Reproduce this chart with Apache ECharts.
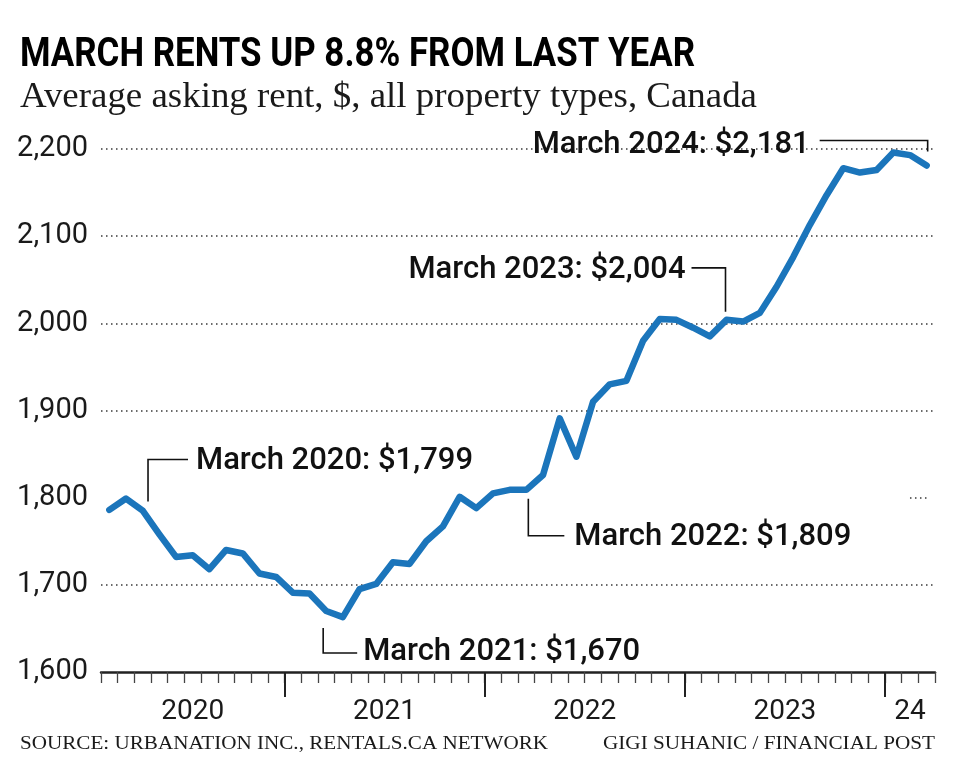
<!DOCTYPE html>
<html><head><meta charset="utf-8">
<script src="https://cdn.jsdelivr.net/npm/echarts@6/dist/echarts.min.js"></script>
<style>html,body{margin:0;padding:0;background:#fff}#c{width:960px;height:778px}</style>
</head><body><div id="c"></div>
<script>
// ---- data ----
const months = [
  'Feb 2020','Mar 2020','Apr 2020','May 2020','Jun 2020','Jul 2020','Aug 2020','Sep 2020','Oct 2020','Nov 2020','Dec 2020',
  'Jan 2021','Feb 2021','Mar 2021','Apr 2021','May 2021','Jun 2021','Jul 2021','Aug 2021','Sep 2021','Oct 2021','Nov 2021','Dec 2021',
  'Jan 2022','Feb 2022','Mar 2022','Apr 2022','May 2022','Jun 2022','Jul 2022','Aug 2022','Sep 2022','Oct 2022','Nov 2022','Dec 2022',
  'Jan 2023','Feb 2023','Mar 2023','Apr 2023','May 2023','Jun 2023','Jul 2023','Aug 2023','Sep 2023','Oct 2023','Nov 2023','Dec 2023',
  'Jan 2024','Feb 2024','Mar 2024'
];
const rents = [
  1786,1799,1785,1758,1732,1734,1718,1740,1736,1713,1709,
  1691,1690,1670,1663,1695,1701,1726,1724,1750,1767,1801,1788,
  1805,1809,1809,1826,1891,1847,1910,1930,1934,1980,2005,2004,
  1995,1985,2004,2002,2012,2042,2076,2113,2147,2178,2173,2176,
  2196,2193,2181
];
const years = ['2020','2021','2022','2023','2024'];
const yearTickLabels = ['2020','2021','2022','2023','24'];
const yMin = 1600, yMax = 2200, yStep = 100;
const annotations = [
  {month:'Mar 2020', text:'March 2020: $1,799'},
  {month:'Mar 2021', text:'March 2021: $1,670'},
  {month:'Mar 2022', text:'March 2022: $1,809'},
  {month:'Mar 2023', text:'March 2023: $2,004'},
  {month:'Mar 2024', text:'March 2024: $2,181'}
];
const titleText = 'MARCH RENTS UP 8.8% FROM LAST YEAR';
const subtitleText = 'Average asking rent, $, all property types, Canada';
const sourceText = 'SOURCE: URBANATION INC., RENTALS.CA NETWORK';
const creditText = 'GIGI SUHANIC / FINANCIAL POST';

// ---- layout / style ----
const BLUE = '#1b75bb';
const INK = '#1a1a1a';
const SANS = "Roboto, 'Liberation Sans', sans-serif";
const SERIF = "'Liberation Serif', 'DejaVu Serif', serif";
const leaderStyles = [
  {pts:[[22,3],[22,-39],[62,-39]], tx:70, ty:-37, align:'left'},
  {pts:[[-3,17],[-3,42],[31,42]], tx:37, ty:41, align:'left'},
  {pts:[[2,9],[2,46],[38,46]], tx:48, ty:47, align:'left'},
  {pts:[[-1,-8],[-1,-52],[-35,-52]], tx:-41, ty:-50, align:'right'},
  {pts:[[1,-14],[1,-25],[-107,-25]], tx:-117, ty:-20, align:'right'}
];
// header/footer text blocks: anchor x, middle y, font, target width
const textBlocks = [
  {text:titleText, x:20, y:56, align:'left', family:SANS, weight:'bold', size:40, width:675, color:'#000'},
  {text:subtitleText, x:20, y:98, align:'left', family:SERIF, weight:'normal', size:36, width:737, color:INK},
  {text:sourceText, x:20, y:744, align:'left', family:SERIF, weight:'normal', size:18, width:528, color:INK},
  {text:creditText, x:935, y:744, align:'right', family:SERIF, weight:'normal', size:18, width:332, color:INK}
];

// derived helpers built from the data arrays
const monthYear = months.map(m => m.split(' ')[1]);
const boundaries = months.map((m, i) => String(i)).concat([String(months.length)]);
const yearCenters = {};
years.forEach((y, k) => {
  const first = monthYear.indexOf(y);
  const last = monthYear.lastIndexOf(y);
  yearCenters[(first + last + 1) / 2] = yearTickLabels[k];
});
const gridColors = [];
for (let v = yMin; v <= yMax; v += yStep) {
  gridColors.push(v === yMin || v === 1800 ? 'rgba(0,0,0,0)' : '#3a3a3a');
}

const chart = echarts.init(document.getElementById('c'));
const option = {
  animation: false,
  backgroundColor: '#fff',
  grid: {left: 101, right: 25, top: 149, bottom: 106, containLabel: false, outerBoundsMode: 'none'},
  xAxis: [
    {type:'category', data: months, boundaryGap: true, position:'bottom',
     axisLine:{show:true, lineStyle:{color:'#222', width:2.5}},
     axisTick:{show:true, interval:0, length:11, lineStyle:{color:'#444', width:1.3}},
     axisLabel:{show:false}, splitLine:{show:false}},
    {type:'category', data: boundaries, boundaryGap: false, position:'bottom',
     axisLine:{show:false},
     axisTick:{show:true, length:25, lineStyle:{color:'#222', width:2},
       interval: (idx) => idx < months.length && months[idx].startsWith('Jan')},
     axisLabel:{show:false}, splitLine:{show:false}},
    {type:'value', min: 0, max: months.length, interval: 0.5, position:'bottom',
     axisLine:{show:false}, axisTick:{show:false}, splitLine:{show:false},
     axisLabel:{show:true, margin:26, fontFamily:SANS, fontSize:28, color:INK,
       formatter: (v) => yearCenters[v] || ''}}
  ],
  yAxis: {
    type:'value', min:yMin, max:yMax, interval:yStep,
    axisLine:{show:false}, axisTick:{show:false},
    axisLabel:{margin:13, fontFamily:SANS, fontSize:29, color:INK,
      formatter:(v) => v.toLocaleString('en-US')},
    splitLine:{show:true, lineStyle:{color:gridColors, width:1.5, type:[1.5,3.5]}}
  },
  series: [{
    type:'line', xAxisIndex:0, yAxisIndex:0, data: rents,
    symbol:'none', smooth:false, z:5,
    lineStyle:{color:BLUE, width:6.5, join:'round', cap:'round'},
    markLine:{silent:true, symbol:'none', label:{show:false}, z:1,
      lineStyle:{color:'#3a3a3a', width:1.5, type:[1.5,3.5]},
      data:[[{coord:[months.length - 2, 1800]}, {coord:[months.length - 1, 1800]}]]}
  }]
};
chart.setOption(option);

const measureCtx = document.createElement('canvas').getContext('2d');
const graphics = [];
textBlocks.forEach(b => {
  const font = `${b.weight} ${b.size}px ${b.family}`;
  measureCtx.font = font;
  const w = measureCtx.measureText(b.text).width;
  graphics.push({type:'text', silent:true, x:b.x, y:b.y, scaleX: b.width / w, scaleY: 1,
    style:{text:b.text, font:font, fill:b.color, align:b.align, verticalAlign:'middle'}});
});
annotations.forEach((a, k) => {
  const i = months.indexOf(a.month);
  const [px, py] = chart.convertToPixel({seriesIndex:0}, [i, rents[i]]);
  const s = leaderStyles[k];
  graphics.push({type:'polyline', z:10, silent:true,
    shape:{points: s.pts.map(([dx,dy]) => [px+dx, py+dy])},
    style:{stroke:'#111', lineWidth:1.6, fill:null}});
  graphics.push({type:'text', z:10, silent:true, x: px + s.tx, y: py + s.ty,
    style:{text:a.text, fontFamily:SANS, fontWeight:500, fontSize:31, fill:'#111',
      align:s.align, verticalAlign:'middle'}});
});
chart.setOption({graphic: graphics});
</script>
</body></html>
